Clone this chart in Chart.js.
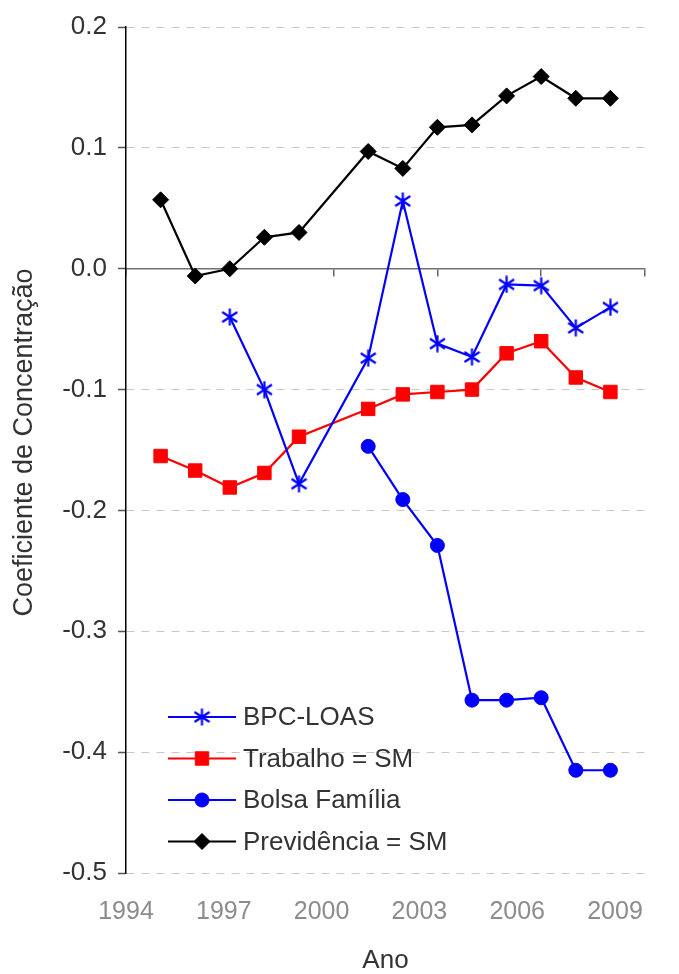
<!DOCTYPE html>
<html>
<head>
<meta charset="utf-8">
<script src="https://cdn.jsdelivr.net/npm/chart.js@4.4.1/dist/chart.umd.min.js"></script>
<style>
  body { margin: 0; background: #fff; }
  #wrap { width: 679px; height: 974px; }
</style>
</head>
<body>
<div id="wrap"><canvas id="chart" width="679" height="974"></canvas></div>
<script>
// dados
const anos = [1995, 1996, 1997, 1998, 1999, 2001, 2002, 2003, 2004, 2005, 2006, 2007, 2008];
const previdencia = [0.057, -0.006, 0.000, 0.026, 0.030, 0.097, 0.083, 0.117, 0.119, 0.143, 0.159, 0.141, 0.141];
const trabalho = [-0.155, -0.167, -0.181, -0.169, -0.139, -0.116, -0.104, -0.102, -0.100, -0.070, -0.060, -0.090, -0.102];

const anosBpc = [1997, 1998, 1999, 2001, 2002, 2003, 2004, 2005, 2006, 2007, 2008];
const bpc = [-0.040, -0.100, -0.178, -0.074, 0.056, -0.062, -0.073, -0.013, -0.014, -0.049, -0.032];

const anosBolsa = [2001, 2002, 2003, 2004, 2005, 2006, 2007, 2008];
const bolsa = [-0.147, -0.191, -0.229, -0.357, -0.357, -0.355, -0.415, -0.415];

const anosTicks = [1994, 1997, 2000, 2003, 2006, 2009];

const FONT = "'Liberation Sans', Arial, sans-serif";

// asterisco (X + barra vertical) como no Excel
const asterisco = document.createElement('canvas');
asterisco.width = 17;
asterisco.height = 18;
(function () {
    const c = asterisco.getContext('2d');
    c.strokeStyle = '#0000ff';
    c.lineWidth = 2.2;
    c.beginPath();
    c.moveTo(8.5, 0.5); c.lineTo(8.5, 17.5);
    c.moveTo(1, 4); c.lineTo(16, 14);
    c.moveTo(16, 4); c.lineTo(1, 14);
    c.stroke();
})();

function pares(xs, ys) {
    return xs.map((x, i) => ({ x: x, y: ys[i] }));
}

function desenhaMarcador(ctx, ds, x, y) {
    const s = ds.pointStyle;
    const r = ds.pointRadius;
    ctx.save();
    ctx.fillStyle = ds.pointBackgroundColor;
    ctx.strokeStyle = ds.pointBorderColor;
    ctx.lineWidth = 1;
    if (s instanceof HTMLCanvasElement) {
        ctx.drawImage(s, x - s.width / 2, y - s.height / 2);
    } else if (s === 'rect') {
        const h = r * Math.SQRT1_2;
        ctx.beginPath(); ctx.rect(x - h, y - h, 2 * h, 2 * h); ctx.fill(); ctx.stroke();
    } else if (s === 'rectRot') {
        ctx.beginPath();
        ctx.moveTo(x - r, y); ctx.lineTo(x, y - r); ctx.lineTo(x + r, y); ctx.lineTo(x, y + r);
        ctx.closePath(); ctx.fill(); ctx.stroke();
    } else {
        ctx.beginPath(); ctx.arc(x, y, r, 0, Math.PI * 2); ctx.fill(); ctx.stroke();
    }
    ctx.restore();
}

// legenda dentro da área do gráfico, canto inferior esquerdo
const legendaInterna = {
    id: 'legendaInterna',
    afterDraw(chart) {
        const ctx = chart.ctx;
        const linhas = [717, 758.5, 800, 841.5];
        chart.data.datasets.forEach((ds, i) => {
            const y = linhas[i];
            ctx.save();
            ctx.strokeStyle = ds.borderColor;
            ctx.lineWidth = 2;
            ctx.beginPath(); ctx.moveTo(168, y); ctx.lineTo(236, y); ctx.stroke();
            ctx.restore();
            desenhaMarcador(ctx, ds, 202, y);
            ctx.save();
            ctx.fillStyle = '#333333';
            ctx.font = '26px ' + FONT;
            ctx.textBaseline = 'middle';
            ctx.fillText(ds.label, 243, y + 1);
            ctx.restore();
        });
    }
};

const ctx = document.getElementById('chart').getContext('2d');
new Chart(ctx, {
    type: 'line',
    data: {
        datasets: [
            {
                label: 'BPC-LOAS',
                data: pares(anosBpc, bpc),
                borderColor: '#0000ff', borderWidth: 2.2,
                pointStyle: asterisco, pointRadius: 8,
                pointBackgroundColor: '#0000ff', pointBorderColor: '#0000ff'
            },
            {
                label: 'Trabalho = SM',
                data: pares(anos, trabalho),
                borderColor: '#ff0000', borderWidth: 2.2,
                pointStyle: 'rect', pointRadius: 9.5, pointBorderWidth: 1,
                pointBackgroundColor: '#ff0000', pointBorderColor: '#ff0000'
            },
            {
                label: 'Bolsa Família',
                data: pares(anosBolsa, bolsa),
                borderColor: '#0000ff', borderWidth: 2.2,
                pointStyle: 'circle', pointRadius: 7, pointBorderWidth: 1,
                pointBackgroundColor: '#0000ff', pointBorderColor: '#0000ff'
            },
            {
                label: 'Previdência = SM',
                data: pares(anos, previdencia),
                borderColor: '#000000', borderWidth: 2.2,
                pointStyle: 'rectRot', pointRadius: 8, pointBorderWidth: 1,
                pointBackgroundColor: '#000000', pointBorderColor: '#000000'
            }
        ]
    },
    options: {
        responsive: false,
        animation: false,
        layout: { padding: { left: 0, top: 27, right: 34, bottom: 0 } },
        plugins: { legend: { display: false }, tooltip: { enabled: false } },
        scales: {
            // eixo horizontal que cruza em y = 0 (linha e marcas)
            x: {
                type: 'linear',
                position: { y: 0 },
                min: 1994, max: 2009,
                ticks: { display: false, stepSize: 3 },
                grid: { drawOnChartArea: false, drawTicks: true, tickLength: 7, color: '#666666', lineWidth: 1.5 },
                border: { display: true, color: '#707070', width: 1.5 }
            },
            // rótulos dos anos, na base
            xl: {
                type: 'linear',
                position: 'bottom',
                min: 1994, max: 2009.92,
                afterBuildTicks: (s) => { s.ticks = anosTicks.map(v => ({ value: v })); },
                afterFit: (s) => { s.height = 101; },
                ticks: {
                    color: '#8c8c8c', font: { family: FONT, size: 25 }, padding: 24,
                    maxRotation: 0, autoSkip: false,
                    callback: (v) => String(v)
                },
                grid: { display: false, drawTicks: false },
                border: { display: false },
                title: {
                    display: true, text: 'Ano', color: '#333333',
                    font: { family: FONT, size: 26, lineHeight: 1 },
                    padding: { top: 0, bottom: 0 }
                }
            },
            y: {
                min: -0.5, max: 0.2,
                afterFit: (s) => { s.width = 126; },
                ticks: {
                    stepSize: 0.1, color: '#333333', padding: 11,
                    font: { family: FONT, size: 26 },
                    callback: (v) => Math.abs(v) < 1e-9 ? '0.0' : Number(v).toFixed(1)
                },
                grid: { color: '#c8c8c8', lineWidth: 1, tickLength: 8, tickColor: '#555555', tickWidth: 1.5, tickBorderDash: [] },
                border: { display: true, color: '#000000', width: 1.5, dash: [8, 7] },
                title: {
                    display: true, text: '\u00A0\u00A0Coeficiente de Concentração', color: '#333333',
                    font: { family: FONT, size: 27, lineHeight: 1 },
                    padding: { top: 11, bottom: 0 }
                }
            }
        }
    },
    plugins: [legendaInterna]
});
</script>
</body>
</html>
